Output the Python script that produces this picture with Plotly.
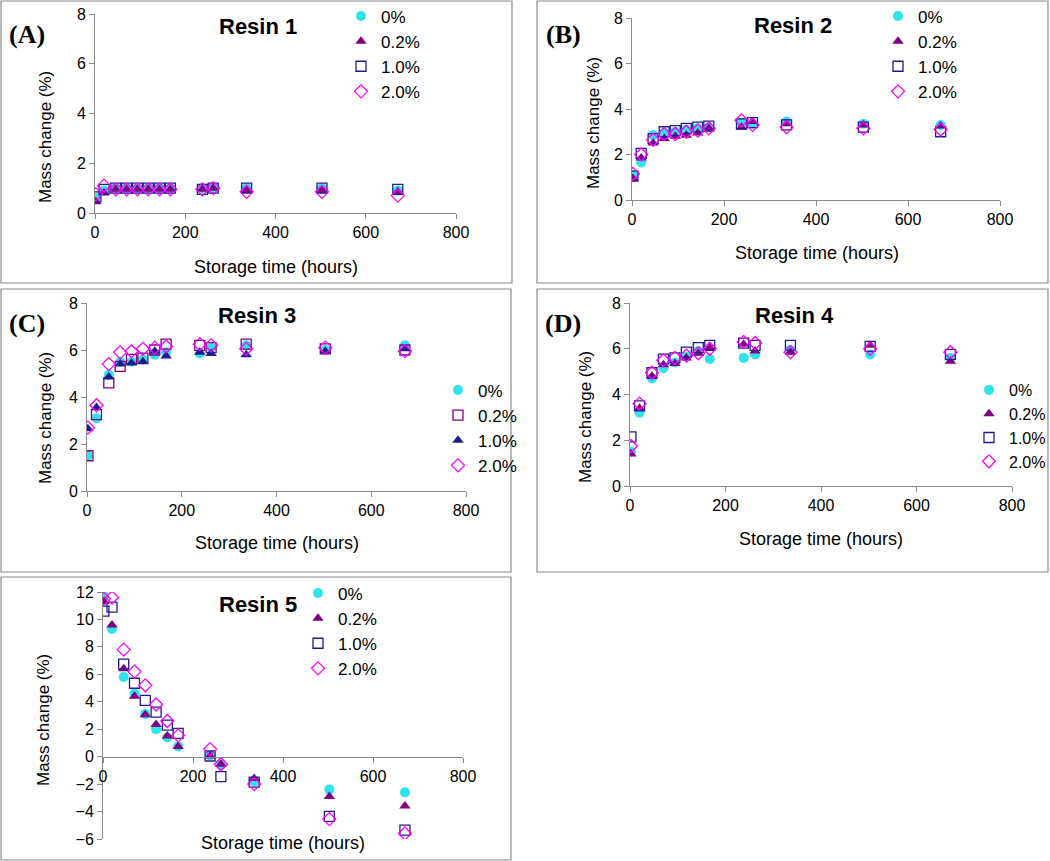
import plotly.graph_objects as go

W, H = 1050, 861

# storage time (hours)
hours = [2, 20, 46, 70, 94, 118, 143, 167, 238, 262, 336, 503, 671]

# mass change (%) per resin, per filler level
r1_0 = [0.6, 0.9, 1.0, 1.0, 1.0, 1.0, 1.0, 1.0, 1.0, 1.0, 1.0, 1.0, 0.9]
r1_02 = [0.45, 0.8, 0.95, 0.95, 0.95, 0.95, 0.95, 0.95, 0.95, 1.0, 0.9, 0.9, 0.85]
r1_10 = [0.65, 0.95, 1.0, 1.0, 1.0, 1.0, 1.0, 1.0, 0.95, 1.0, 1.0, 1.0, 0.95]
r1_20 = [0.75, 1.1, 0.95, 0.95, 0.95, 0.95, 0.95, 0.95, 0.95, 1.0, 0.85, 0.85, 0.7]

r2_0 = [1.1, 1.65, 2.85, 2.95, 3.0, 3.1, 3.15, 3.2, 3.4, 3.35, 3.45, 3.35, 3.3]
r2_02 = [0.95, 1.85, 2.5, 2.7, 2.8, 2.85, 2.95, 3.15, 3.2, 3.45, 3.35, 3.3, 3.25]
r2_10 = [1.05, 2.05, 2.7, 3.0, 3.05, 3.15, 3.2, 3.25, 3.35, 3.4, 3.3, 3.2, 3.0]
r2_20 = [1.15, 2.0, 2.65, 2.9, 2.9, 3.0, 3.05, 3.15, 3.5, 3.3, 3.2, 3.15, 3.1]

r3_0 = [1.5, 3.1, 4.95, 5.5, 5.5, 5.6, 5.8, 5.9, 5.85, 6.1, 6.2, 6.0, 6.2]
r3_02 = [1.5, 3.25, 4.6, 5.3, 5.6, 5.65, 6.0, 6.25, 6.2, 6.1, 6.25, 6.05, 6.0]
r3_10 = [2.65, 3.55, 4.85, 5.4, 5.45, 5.5, 5.95, 5.75, 5.9, 5.85, 5.8, 5.95, 6.05]
r3_20 = [2.7, 3.65, 5.4, 5.9, 5.95, 6.05, 6.1, 6.15, 6.25, 6.2, 6.05, 6.1, 5.95]

r4_0 = [1.5, 3.2, 4.7, 5.15, 5.4, 5.65, 5.9, 5.55, 5.6, 5.75, 5.95, 5.75, 5.6]
r4_02 = [1.4, 3.4, 4.8, 5.3, 5.35, 5.6, 5.8, 6.05, 6.2, 5.9, 5.85, 6.15, 5.45]
r4_10 = [2.15, 3.5, 4.95, 5.55, 5.6, 5.85, 6.05, 6.15, 6.25, 6.15, 6.15, 6.1, 5.75]
r4_20 = [1.75, 3.6, 4.95, 5.5, 5.6, 5.7, 5.8, 6.0, 6.3, 6.25, 5.85, 6.0, 5.85]

r5_0 = [11.7, 9.3, 5.8, 4.6, 3.1, 2.0, 1.4, 0.75, 0.1, -0.6, -1.8, -2.4, -2.6]
r5_02 = [11.3, 9.6, 6.4, 4.4, 3.05, 2.35, 1.5, 0.75, 0.05, -0.55, -1.6, -2.9, -3.6]
r5_10 = [10.6, 10.9, 6.75, 5.35, 4.1, 3.25, 2.3, 1.7, 0.05, -1.45, -1.85, -4.35, -5.35]
r5_20 = [11.5, 11.6, 7.8, 6.2, 5.2, 3.8, 2.6, 1.55, 0.55, -0.55, -2.0, -4.55, -5.6]

levels = ["0%", "0.2%", "1.0%", "2.0%"]

CYAN = "#2EE3EA"
PURPLE = "#800080"
NAVY = "#1C1C8C"
MAGENTA = "#FF00FF"

# marker style per series (resin 3 swaps square/triangle)
std_style = [
    dict(symbol="circle", color=CYAN, size=10),
    dict(symbol="triangle-up", color=PURPLE, size=10),
    dict(symbol="square-open", color=NAVY, size=10, line=dict(width=1.3, color=NAVY)),
    dict(symbol="diamond-open", color=MAGENTA, size=10, line=dict(width=1.3, color=MAGENTA)),
]
r3_style = [
    dict(symbol="circle", color=CYAN, size=10),
    dict(symbol="square-open", color=PURPLE, size=10, line=dict(width=1.3, color=PURPLE)),
    dict(symbol="triangle-up", color=NAVY, size=10),
    dict(symbol="diamond-open", color=MAGENTA, size=10, line=dict(width=1.3, color=MAGENTA)),
]


def px_x(p):
    return p / W


def px_y(p):
    return 1 - p / H


# panel pixel boxes: plot area (x0, x1, ytop, ybottom), border, legend (left, centre y)
panels = [
    dict(name="Resin 1", tag="(A)", data=[r1_0, r1_02, r1_10, r1_20], style=std_style,
         plot=(95, 456, 14, 213), border=(1, 512, 1, 283), yr=(0, 8), dt=2,
         title=(258, 27), tagpos=(27, 34), ytitle=(45, 137), xtitle=(276, 267), leg=(341, 54)),
    dict(name="Resin 2", tag="(B)", data=[r2_0, r2_02, r2_10, r2_20], style=std_style,
         plot=(632, 1000, 18, 200), border=(537, 1048, 1, 283), yr=(0, 8), dt=2,
         title=(793, 26), tagpos=(563, 34), ytitle=(594, 123), xtitle=(817, 253), leg=(878, 54)),
    dict(name="Resin 3", tag="(C)", data=[r3_0, r3_02, r3_10, r3_20], style=r3_style,
         plot=(87, 466, 303, 491), border=(1, 511, 289, 572), yr=(0, 8), dt=2,
         title=(257, 315), tagpos=(27, 323), ytitle=(45, 418), xtitle=(277, 543), leg=(438, 428)),
    dict(name="Resin 4", tag="(D)", data=[r4_0, r4_02, r4_10, r4_20], style=std_style,
         plot=(630, 1012, 303, 486), border=(537, 1048, 289, 572), yr=(0, 8), dt=2,
         title=(794, 315), tagpos=(563, 323), ytitle=(585, 417), xtitle=(821, 539), leg=(969, 426)),
    dict(name="Resin 5", tag="", data=[r5_0, r5_02, r5_10, r5_20], style=std_style,
         plot=(103, 463, 592, 839), border=(1, 511, 577, 860), yr=(-6, 12), dt=2,
         title=(258, 604), tagpos=None, ytitle=(43, 720), xtitle=(283, 843), leg=(298, 631)),
]

fig = go.Figure()
layout = dict(width=W, height=H, margin=dict(l=0, r=0, t=0, b=0, autoexpand=False),
              paper_bgcolor="white", plot_bgcolor="white", showlegend=True,
              font=dict(family="Liberation Sans, Arial", size=15, color="black"))
annotations = []
shapes = []

for i, p in enumerate(panels):
    n = i + 1
    xs = "" if n == 1 else str(n)
    lg = "legend" if n == 1 else "legend%d" % n
    for lvl, ys, st in zip(levels, p["data"], p["style"]):
        fig.add_trace(go.Scatter(
            x=hours, y=ys, mode="markers", name=lvl, marker=st,
            xaxis="x" + xs, yaxis="y" + xs, legend=lg))

    x0, x1, yt, yb = p["plot"]
    xdom = [px_x(x0), px_x(x1)]
    ydom = [px_y(yb), px_y(yt)]
    axis_common = dict(showgrid=False, zeroline=False, showline=True, linecolor="#8a8a8a",
                       linewidth=1, ticks="outside", ticklen=5, tickcolor="#8a8a8a",
                       tickfont=dict(size=16, family="Liberation Sans, Arial"))
    xa = dict(axis_common, domain=xdom, range=[0, 800], dtick=200, tick0=0,
              anchor="y" + xs)
    ymin, ymax = p["yr"]
    ya = dict(axis_common, domain=ydom, range=[ymin, ymax], dtick=p["dt"],
              anchor="x" + xs)
    if ymin < 0:
        # resin 5: x axis crosses at zero
        frac = (0 - ymin) / (ymax - ymin)
        xa.update(anchor="free", position=ydom[0] + frac * (ydom[1] - ydom[0]))
    layout["xaxis" + xs] = xa
    layout["yaxis" + xs] = ya

    lx, ly = p["leg"]
    layout[lg] = dict(x=px_x(lx), y=px_y(ly), xanchor="left", yanchor="middle",
                      xref="container", yref="container",
                      bgcolor="rgba(0,0,0,0)", font=dict(size=17 if n != 4 else 16),
                      itemwidth=30, tracegroupgap=0)

    bx0, bx1, by0, by1 = p["border"]
    shapes.append(dict(type="rect", xref="paper", yref="paper",
                       x0=px_x(bx0), x1=px_x(bx1), y0=px_y(by1), y1=px_y(by0),
                       line=dict(color="#8a8a8a", width=1.2)))

    tx, ty = p["title"]
    annotations.append(dict(text="<b>%s</b>" % p["name"], x=px_x(tx), y=px_y(ty),
                            xref="paper", yref="paper", showarrow=False,
                            xanchor="center", yanchor="middle", font=dict(size=22)))
    if p["tagpos"]:
        gx, gy = p["tagpos"]
        annotations.append(dict(text="<b>%s</b>" % p["tag"], x=px_x(gx), y=px_y(gy),
                                xref="paper", yref="paper", showarrow=False,
                                xanchor="center", yanchor="middle",
                                font=dict(size=26, family="Liberation Serif, Times New Roman")))
    ax_, ay_ = p["ytitle"]
    annotations.append(dict(text="Mass change (%)", x=px_x(ax_), y=px_y(ay_),
                            xref="paper", yref="paper", showarrow=False, textangle=-90,
                            xanchor="center", yanchor="middle", font=dict(size=17)))
    bx_, by_ = p["xtitle"]
    annotations.append(dict(text="Storage time (hours)", x=px_x(bx_), y=px_y(by_),
                            xref="paper", yref="paper", showarrow=False,
                            xanchor="center", yanchor="middle", font=dict(size=18)))

layout["annotations"] = annotations
layout["shapes"] = shapes
fig.update_layout(**layout)

# drop the default page margin so the figure sits at the window origin
fig.write_html("out.html", config={"displayModeBar": False},
               post_script="document.body.style.margin='0';")
